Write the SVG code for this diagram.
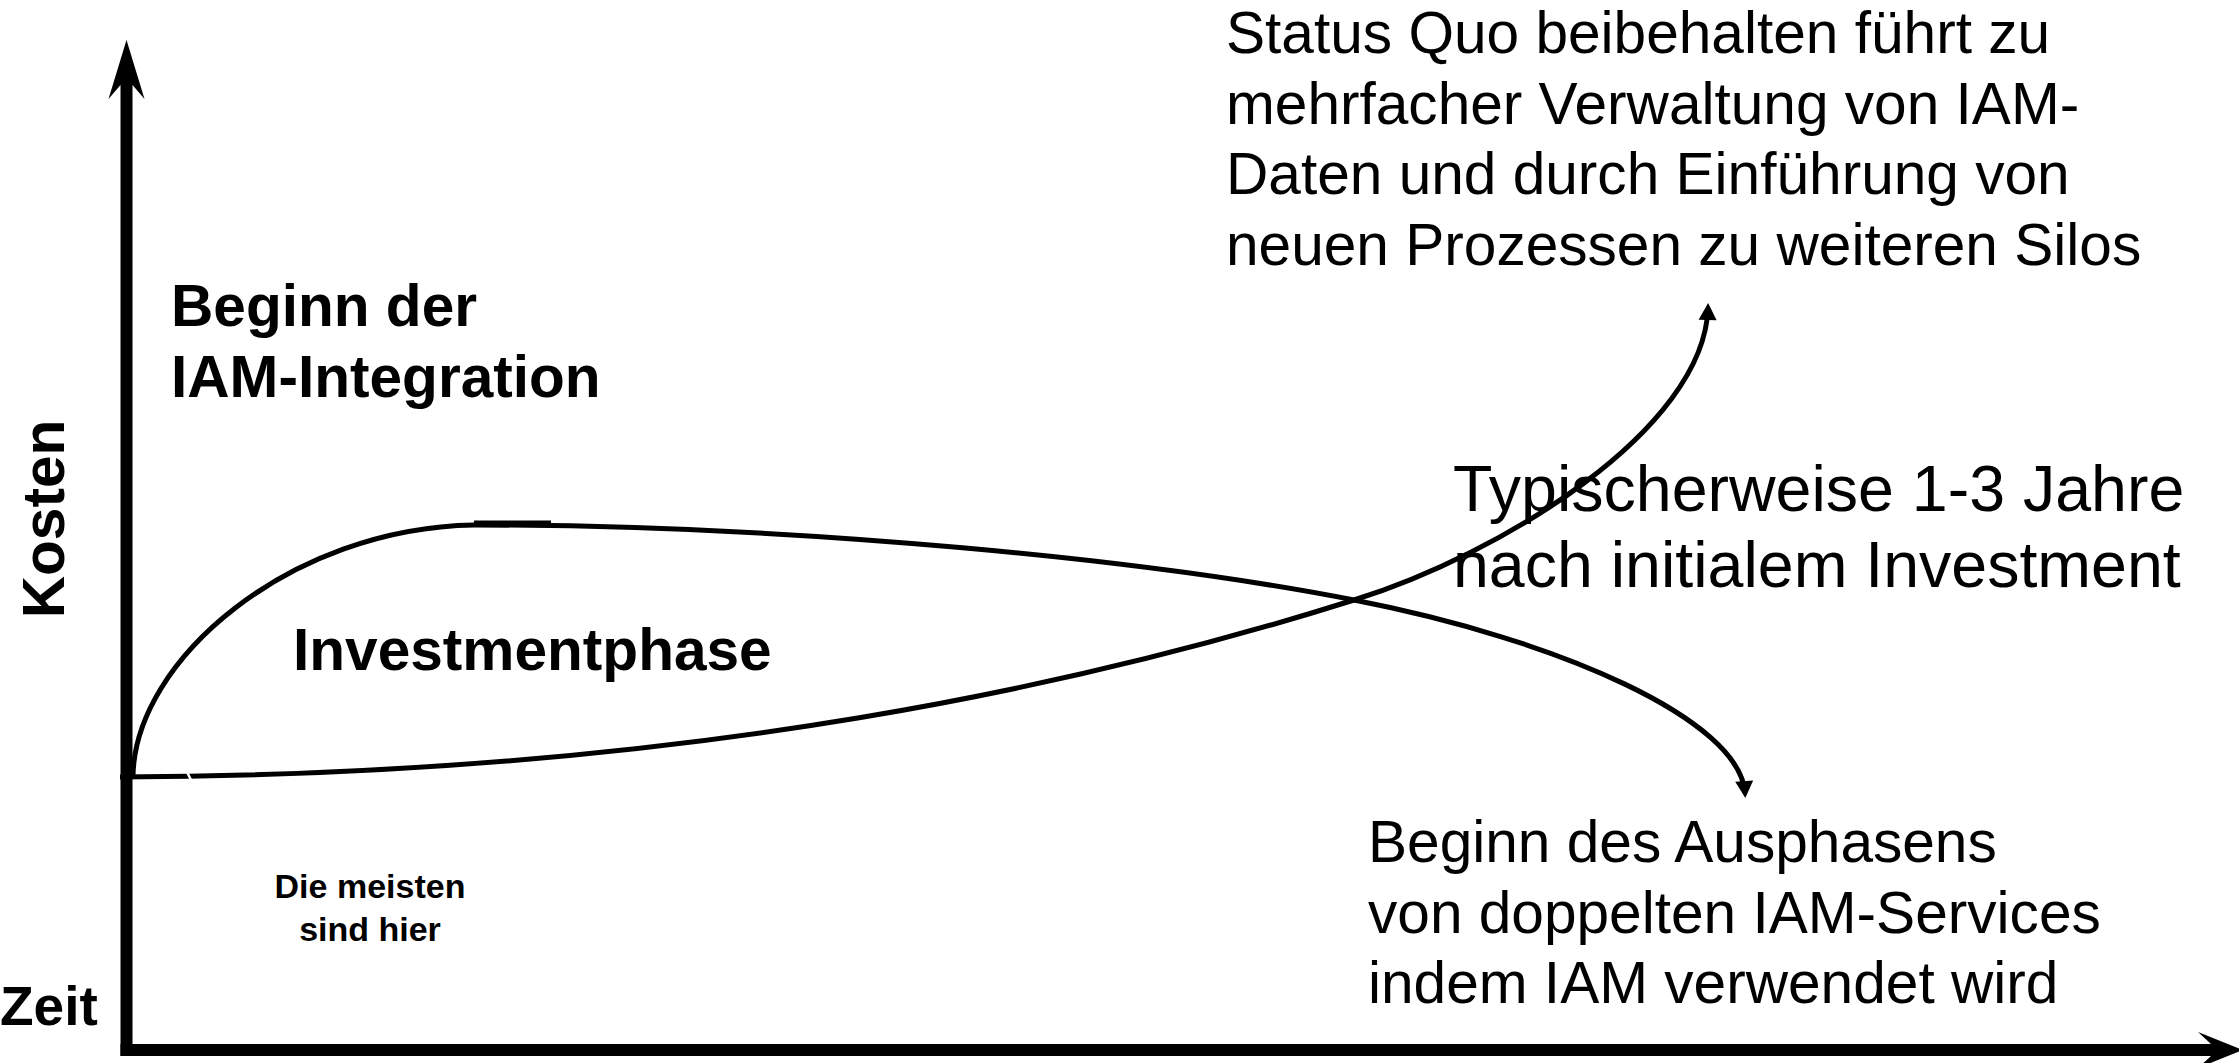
<svg xmlns="http://www.w3.org/2000/svg" width="2239" height="1063" viewBox="0 0 2239 1063">
<style>
.b{font-family:"Liberation Sans",Arial,sans-serif;font-weight:bold;font-size:58.6px;fill:#000}
.r{font-family:"Liberation Sans",Arial,sans-serif;font-size:58.6px;fill:#000}
.curve{fill:none;stroke:#000;stroke-width:5}
.axis{fill:none;stroke:#000;stroke-width:12}
</style>
<defs>
<marker id="ah" markerUnits="userSpaceOnUse" markerWidth="20" markerHeight="20" refX="12" refY="9" orient="auto" overflow="visible">
<path d="M0,0 L17,9 L0,18 z" fill="#000"/>
</marker>
</defs>
<rect width="2239" height="1063" fill="#fff"/>
<g id="axes">
<line class="axis" x1="126.5" y1="1056" x2="126.5" y2="84"/>
<polygon points="126.5,40 144.5,99 132.5,85 120.5,85 108.5,99" fill="#000"/>
<line class="axis" x1="120.5" y1="1050" x2="2212" y2="1050"/>
<polygon points="2243,1050 2198,1032 2211,1044 2211,1056 2198,1068" fill="#000"/>
</g>
<g id="connectors">
<path class="curve" d="M133,777 C134,660 290,528 474,525 C800,525 1150,560 1354,600 C1560,640 1740,720 1745,793" marker-end="url(#ah)"/>
<line x1="474" y1="523" x2="551" y2="523" stroke="#000" stroke-width="5"/>
<path class="curve" d="M120,777 C700,775 1100,680 1354,600 C1500,555 1704,430 1708,308" marker-end="url(#ah)"/>
<line x1="187" y1="772" x2="192" y2="782" stroke="#fff" stroke-width="2.5"/>
</g>
<g id="label-kosten"><text class="b" transform="translate(64,519) rotate(-90)" text-anchor="middle">Kosten</text></g>
<g id="label-zeit"><text class="b" style="font-size:55px" x="0" y="1025">Zeit</text></g>
<g id="label-beginn-integration"><text class="b" x="171" y="326">Beginn der</text><text class="b" x="171" y="397">IAM-Integration</text></g>
<g id="label-investmentphase"><text class="b" x="293" y="670">Investmentphase</text></g>
<g id="label-die-meisten"><text class="b" style="font-size:34px" x="370" y="898" text-anchor="middle">Die meisten</text><text class="b" style="font-size:34px" x="370" y="941" text-anchor="middle">sind hier</text></g>
<g id="label-status-quo">
<text class="r" x="1226" y="53">Status Quo beibehalten führt zu</text>
<text class="r" x="1226" y="124">mehrfacher Verwaltung von IAM-</text>
<text class="r" x="1226" y="194">Daten und durch Einführung von</text>
<text class="r" x="1226" y="265">neuen Prozessen zu weiteren Silos</text>
</g>
<g id="label-typisch">
<text class="r" style="font-size:64.5px" x="1453" y="511">Typischerweise 1-3 Jahre</text>
<text class="r" style="font-size:64.5px" x="1453" y="587">nach initialem Investment</text>
</g>
<g id="label-ausphasen">
<text class="r" x="1368" y="862">Beginn des Ausphasens</text>
<text class="r" x="1368" y="933">von doppelten IAM-Services</text>
<text class="r" x="1368" y="1003">indem IAM verwendet wird</text>
</g>
</svg>
